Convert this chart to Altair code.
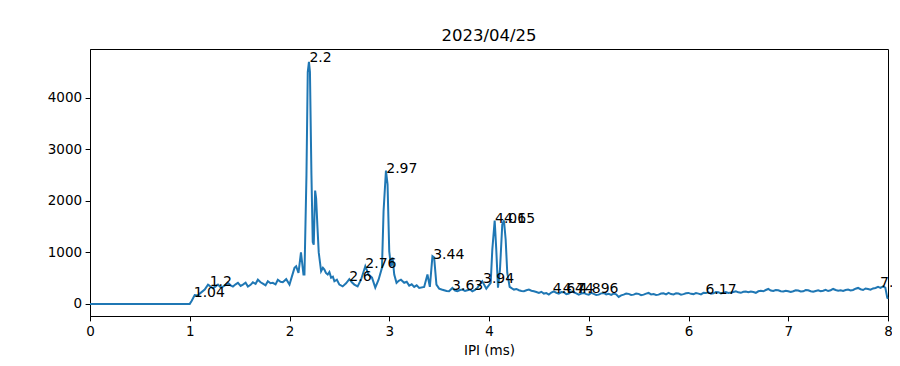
import altair as alt
import pandas as pd

# IPI histogram curve
ipi_ms = [
    0.0, 0.5, 1.0, 1.02, 1.05, 1.08, 1.1, 1.15, 1.183, 1.2, 1.233, 1.26, 1.283, 1.31, 1.333,
    1.36, 1.383, 1.41, 1.433, 1.46, 1.483, 1.51, 1.533, 1.56, 1.583, 1.61, 1.633, 1.66, 1.683,
    1.71, 1.733, 1.76, 1.783, 1.81, 1.833, 1.86, 1.883, 1.91,
    1.933, 1.967, 2.0, 2.05, 2.067, 2.09, 2.115, 2.14, 2.15, 2.17, 2.183, 2.195,
    2.205, 2.22, 2.233, 2.243, 2.257, 2.267, 2.28, 2.293, 2.317, 2.335, 2.35, 2.365, 2.383,
    2.4, 2.417, 2.435, 2.45, 2.475, 2.5, 2.533, 2.567, 2.6, 2.625, 2.65, 2.683, 2.717, 2.76, 2.793, 2.827,
    2.86, 2.893, 2.927, 2.943, 2.967, 2.983, 3.0, 3.017, 3.033, 3.05, 3.073,
    3.095, 3.117, 3.15, 3.175, 3.2, 3.225, 3.25, 3.275, 3.3, 3.35, 3.383, 3.407, 3.433, 3.45, 3.473, 3.5,
    3.525, 3.55, 3.575, 3.6, 3.633, 3.66, 3.683, 3.71, 3.733, 3.76, 3.783, 3.81, 3.833, 3.86, 3.883,
    3.933, 3.973, 4.017,
    4.033, 4.057, 4.073, 4.09, 4.11, 4.133, 4.15, 4.167, 4.183, 4.207, 4.23, 4.25, 4.275,
    4.3, 4.325, 4.35, 4.375, 4.4, 4.425, 4.45, 4.475, 4.5, 4.525, 4.55, 4.575, 4.6, 4.625, 4.65, 4.675,
    4.7, 4.725, 4.75, 4.775, 4.8, 4.825, 4.85, 4.875, 4.9,
    4.925, 4.95, 4.975, 5.0, 5.025, 5.05, 5.075, 5.1, 5.125, 5.15, 5.175, 5.2, 5.225, 5.25, 5.275,
    5.3, 5.325, 5.35, 5.375, 5.4, 5.425, 5.45, 5.475, 5.5, 5.525, 5.55, 5.575,
    5.6, 5.625, 5.65, 5.675, 5.7, 5.725, 5.75, 5.775, 5.8, 5.825, 5.85, 5.875, 5.9, 5.925, 5.95,
    5.975, 6.0, 6.025, 6.05, 6.075, 6.1, 6.125, 6.15, 6.175, 6.2,
    6.225, 6.25, 6.275, 6.3, 6.325, 6.35, 6.375, 6.4, 6.425, 6.45, 6.475, 6.5, 6.525, 6.55, 6.575,
    6.6, 6.625, 6.65, 6.675, 6.7, 6.725, 6.75, 6.775, 6.8, 6.825, 6.85, 6.875,
    6.9, 6.925, 6.95, 6.975, 7.0, 7.025, 7.05, 7.075, 7.1, 7.125, 7.15, 7.175, 7.2, 7.225, 7.25,
    7.275, 7.3, 7.325, 7.35, 7.375, 7.4, 7.425, 7.45, 7.475, 7.5,
    7.525, 7.55, 7.575, 7.6, 7.625, 7.65, 7.675, 7.7, 7.725, 7.75, 7.775, 7.8, 7.825, 7.85, 7.875,
    7.9, 7.925, 7.95, 7.973, 7.993, 8.0,
]
counts = [
    0, 0, 0, 60, 170, 165, 200, 278, 375, 350, 305, 340, 375, 320, 336,
    370, 408, 360, 336, 380, 408, 350, 375, 410, 336, 370, 420, 390, 470,
    420, 394, 360, 440, 400, 408, 380, 470, 430,
    420, 480, 375, 700, 730, 600, 1000, 570, 570, 2500, 4500, 4700,
    4500, 2500, 1200, 1150, 2200, 2050, 1500, 1000, 633, 700, 666, 600, 570,
    620, 510, 530, 440, 470, 375, 340, 400, 480, 420, 375, 340, 470, 730, 570, 510,
    316, 470, 700, 1800, 2590, 2320, 1020, 730, 900, 570, 410,
    450, 470, 410, 430, 355, 380, 330, 360, 310, 330, 570, 330, 925, 900, 375, 297,
    280, 265, 250, 245, 310, 260, 245, 270, 278, 250, 265, 280, 245, 270, 310,
    440, 297, 410,
    1050, 1620, 1050, 316, 666, 1540, 1620, 1250, 605, 330, 300, 278, 290,
    265, 250, 245, 265, 278, 255, 245, 230, 213, 235, 200, 210, 180, 220, 245, 215,
    200, 230, 225, 190, 200, 240, 225, 205, 180,
    200, 213, 190, 180, 215, 195, 175, 180, 205, 213, 185, 195, 175, 200, 185,
    135, 165, 180, 200, 195, 175, 180, 200, 195, 170, 180, 200,
    213, 185, 190, 175, 180, 200, 205, 185, 213, 190, 185, 205, 200, 180, 190,
    205, 213, 195, 190, 210, 200, 185, 215, 210, 225,
    200, 205, 230, 225, 205, 215, 230, 213, 220, 230, 245, 225, 215, 235, 240,
    225, 240, 230, 215, 245, 255, 245, 270, 290, 260, 250, 270,
    265, 245, 240, 255, 245, 230, 245, 265, 260, 240, 245, 270, 265, 245, 235,
    250, 265, 245, 255, 275, 250, 265, 290, 270, 255,
    265, 250, 270, 278, 260, 270, 295, 310, 285, 270, 300, 290, 275, 300, 310,
    330, 310, 340, 316, 117, 100,
]

# Peak annotations
peak_ms = [1.04, 1.2, 2.2, 2.6, 2.76, 2.97, 3.44, 3.63, 3.94, 4.06, 4.15,
           4.64, 4.74, 4.896, 6.17, 7.92]
peak_counts = [142, 355, 4705, 452, 705, 2550, 880, 278, 414, 1580, 1580,
               220, 220, 220, 200, 336]
peak_text = ["1.04", "1.2", "2.2", "2.6", "2.76", "2.97", "3.44", "3.63",
             "3.94", "4.06", "4.15", "4.64", "4.74", "4.896", "6.17", "7.92"]

x_ticks = [0, 1, 2, 3, 4, 5, 6, 7, 8]
y_ticks = [0, 1000, 2000, 3000, 4000]

line_df = pd.DataFrame({"ipi": ipi_ms, "count": counts})
lab_df = pd.DataFrame({"ipi": peak_ms, "count": peak_counts, "text": peak_text})

FONT = "DejaVu Sans"

x_enc = alt.X("ipi:Q",
              scale=alt.Scale(domain=[0, 8], nice=False, zero=False),
              axis=alt.Axis(values=x_ticks, title="IPI (ms)", format="d"))
y_enc = alt.Y("count:Q",
              scale=alt.Scale(domain=[-235, 4950], nice=False, zero=False),
              axis=alt.Axis(values=y_ticks, title=None, format="d"))

line = alt.Chart(line_df).mark_line(color="#1f77b4", strokeWidth=2).encode(
    x=x_enc, y=y_enc)

labels = alt.Chart(lab_df).mark_text(
    align="left", baseline="alphabetic", fontSize=14, font=FONT, color="black"
).encode(x="ipi:Q", y="count:Q", text="text:N")

chart = (
    alt.layer(line, labels)
    .properties(
        width=798,
        height=267,
        title=alt.TitleParams("2023/04/25", fontSize=16.5, font=FONT,
                              fontWeight="normal", color="black", offset=5),
        autosize=alt.AutoSizeParams(type="none"),
        padding={"left": 82, "top": 41, "right": 4, "bottom": 42},
    )
    .configure_view(stroke="black", strokeWidth=1)
    .configure_axis(
        grid=False,
        domainColor="black",
        tickColor="black",
        tickSize=4.9,
        labelColor="black",
        labelFont=FONT,
        labelFontSize=13.5,
        labelPadding=3.5,
        labelFlush=False,
        titleFont=FONT,
        titleFontSize=13.5,
        titleFontWeight="normal",
        titleColor="black",
        titlePadding=6,
    )
)

chart.save("out.html", embed_options={"renderer": "svg", "actions": False})
